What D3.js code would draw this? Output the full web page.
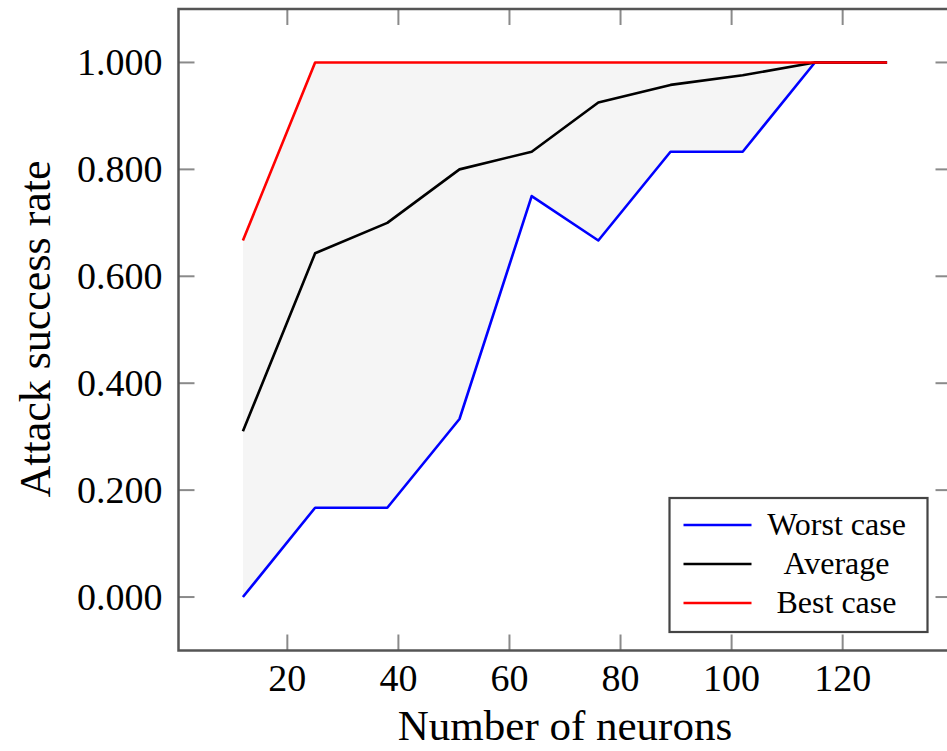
<!DOCTYPE html>
<html>
<head>
<meta charset="utf-8">
<script src="https://cdn.jsdelivr.net/npm/d3@7"></script>
<style>
  html, body { margin: 0; padding: 0; background: #fff; }
  text { font-family: "Liberation Serif", "DejaVu Serif", serif; fill: #000; }
</style>
</head>
<body>
<div id="chart"></div>
<script>
// neuron counts and attack success rates
const neurons = [12, 25, 38, 51, 64, 76, 89, 102, 115, 128];
const worstCase = [0.000, 0.167, 0.167, 0.333, 0.750, 0.667, 0.833, 0.833, 1.000, 1.000];
const average = [0.310, 0.643, 0.700, 0.800, 0.833, 0.925, 0.958, 0.976, 1.000, 1.000];
const bestCase = [0.667, 1.000, 1.000, 1.000, 1.000, 1.000, 1.000, 1.000, 1.000, 1.000];
const xTicks = [20, 40, 60, 80, 100, 120];
const yTicks = [0, 0.2, 0.4, 0.6, 0.8, 1.0];
const seriesNames = ['Worst case', 'Average', 'Best case'];

const svgWidth = 947
const svgHeight = 751
const margin = { left: 178.5, right: -4.5, top: 9, bottom: 100.5 };
const width = svgWidth - margin.left - margin.right;
const height = svgHeight - margin.top - margin.bottom;

function translate(x, y) {
    return 'translate(' + x + ',' + y + ')';
}

let svg = d3.select('#chart').append('svg')
    .attr('width', svgWidth)
    .attr('height', svgHeight)

let plot = svg.append('g').attr('transform', translate(margin.left, margin.top));

// pgfplots style: limits enlarged by 10%
let xScale = d3.scaleLinear().domain([0.4, 139.6]).range([0, width]);
let yScale = d3.scaleLinear().domain([-0.1, 1.1]).range([height, 0]);

// shaded band between worst and best case
let band = neurons.map((n, i) => ({ x: n, lo: worstCase[i], hi: bestCase[i] }));
plot.append('path')
    .datum(band)
    .attr('fill', '#f5f5f5')
    .attr('d', d3.area().x(d => xScale(d.x)).y0(d => yScale(d.lo)).y1(d => yScale(d.hi)));

// ticks (inward, on all four sides)
const tickLen = 16;
const tickColor = '#8a8a8a';
let ticks = plot.append('g').attr('stroke', tickColor).attr('stroke-width', 2);
xTicks.forEach(t => {
    ticks.append('line').attr('x1', xScale(t)).attr('x2', xScale(t)).attr('y1', height).attr('y2', height - tickLen);
    ticks.append('line').attr('x1', xScale(t)).attr('x2', xScale(t)).attr('y1', 0).attr('y2', tickLen);
});
yTicks.forEach(t => {
    ticks.append('line').attr('y1', yScale(t)).attr('y2', yScale(t)).attr('x1', 0).attr('x2', tickLen);
    ticks.append('line').attr('y1', yScale(t)).attr('y2', yScale(t)).attr('x1', width).attr('x2', width - tickLen);
});

// series lines
const series = [
    { name: seriesNames[0], values: worstCase, color: '#0000ff' },
    { name: seriesNames[1], values: average, color: '#000000' },
    { name: seriesNames[2], values: bestCase, color: '#ff0000' }
];
let line = d3.line().x(d => xScale(d[0])).y(d => yScale(d[1]));
series.forEach(s => {
    plot.append('path')
        .datum(neurons.map((n, i) => [n, s.values[i]]))
        .attr('fill', 'none')
        .attr('stroke', s.color)
        .attr('stroke-width', 2.6)
        .attr('stroke-linejoin', 'round')
        .attr('d', line);
});

// axis frame
plot.append('rect')
    .attr('width', width).attr('height', height)
    .attr('fill', 'none').attr('stroke', '#555').attr('stroke-width', 2.5);

// tick labels
plot.selectAll('.xlab').data(xTicks).enter().append('text')
    .attr('class', 'xlab')
    .attr('x', d => xScale(d)).attr('y', height + 40)
    .attr('text-anchor', 'middle')
    .style('font-size', '38px')
    .text(d => d);

plot.selectAll('.ylab').data(yTicks).enter().append('text')
    .attr('class', 'ylab')
    .attr('x', -16).attr('y', d => yScale(d) + 12.5)
    .attr('text-anchor', 'end')
    .style('font-size', '38px')
    .text(d => d3.format('.3f')(d));

// axis titles
svg.append('text')
    .attr('x', 565).attr('y', 740)
    .attr('text-anchor', 'middle')
    .style('font-size', '43px')
    .text('Number of neurons');

svg.append('text')
    .attr('transform', translate(50, 329) + ' rotate(-90)')
    .attr('text-anchor', 'middle')
    .style('font-size', '44px')
    .text('Attack success rate');

// legend
let legend = svg.append('g').attr('transform', translate(669.5, 498));
legend.append('rect')
    .attr('width', 258).attr('height', 134)
    .attr('fill', '#fff').attr('stroke', '#444').attr('stroke-width', 2.2);
series.forEach((s, i) => {
    let rowY = 27 + i * 39;
    legend.append('line')
        .attr('x1', 14).attr('x2', 82).attr('y1', rowY).attr('y2', rowY)
        .attr('stroke', s.color).attr('stroke-width', 2.6);
    legend.append('text')
        .attr('x', 167).attr('y', rowY + 10)
        .attr('text-anchor', 'middle')
        .style('font-size', '32px')
        .text(s.name);
});
</script>
</body>
</html>
